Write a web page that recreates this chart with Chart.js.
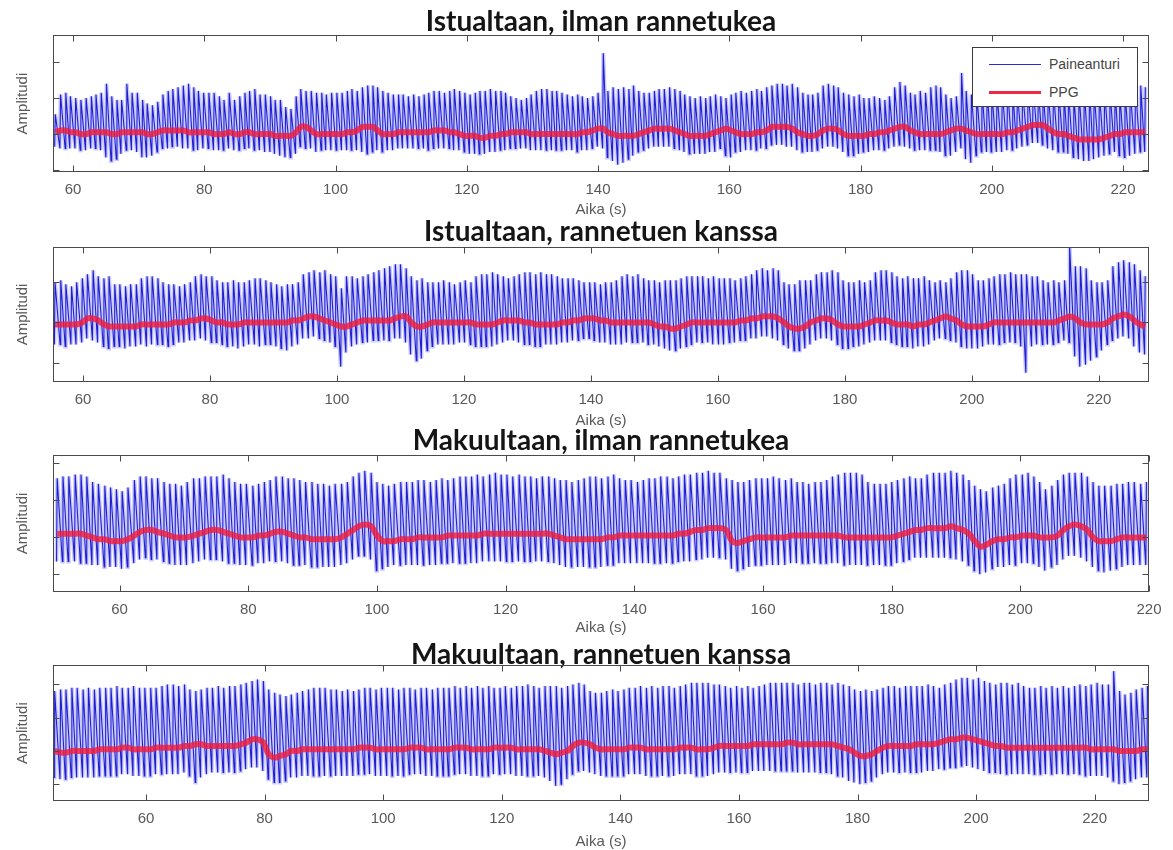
<!DOCTYPE html>
<html>
<head>
<meta charset="utf-8">
<title>Paineanturi vs PPG</title>
<script src="https://cdn.jsdelivr.net/npm/chart.js"></script>
<style>
  body { margin: 0; background: #fff; }
  #wrap { position: relative; width: 1173px; height: 850px; overflow: hidden; background: #fff; }
  #wrap canvas { position: absolute; left: 0; }
  #legend {
    position: absolute; left: 972px; top: 47px; width: 164px; height: 58px;
    border: 1px solid #3a3a3a; background: #fff; z-index: 5;
    font-family: "Liberation Sans", Arial, sans-serif; font-size: 14px; color: #444;
  }
  .lg-row { position: absolute; left: 0; height: 20px; width: 100%; }
  .lg-line { position: absolute; left: 16px; width: 52px; top: 50%; }
  .lg-text { position: absolute; left: 76px; top: 1px; line-height: 18px; }
</style>
</head>
<body>
<div id="wrap">
  <canvas id="panel1" width="1173" height="220" style="top:0px"></canvas>
  <canvas id="panel2" width="1173" height="218" style="top:212px"></canvas>
  <canvas id="panel3" width="1173" height="219" style="top:420px"></canvas>
  <canvas id="panel4" width="1173" height="216" style="top:635px"></canvas>
  <div id="legend"></div>
</div>
<script>
// Paineanturi (pressure sensor) vs PPG, four measurement conditions
// values per heart beat read off the figure: beat time (s), pulse peak, low point before the upstroke,
// and the PPG level at that beat

const seriesNames = ['Paineanturi', 'PPG'];
const seriesColors = ['#2b2bd6', '#ee2a44'];
const panelTitles = [
  'Istualtaan, ilman rannetukea',
  'Istualtaan, rannetuen kanssa',
  'Makuultaan, ilman rannetukea',
  'Makuultaan, rannetuen kanssa'
];
const xTickValues = [60, 80, 100, 120, 140, 160, 180, 200, 220];
const yTickValues = [
  [0, 20, 40, 60],
  [0, 20, 40],
  [0, 20, 40, 60],
  [0, 20, 40, 60]
];
const xLimits = [[56.95, 223.96], [55.28, 227.9], [49.65, 220], [44.32, 229.16]];
const yLimits = [[-1.1, 75], [-9.5, 57.5], [-9.4, 64.5], [-10.1, 71.6]];

// ---- panel 1: sitting, no wrist support ----
const p1Time = [
  57.3, 58.1, 58.9, 59.6, 60.4, 61.2, 62.0, 62.8, 63.5, 64.3,
  65.1, 65.9, 66.7, 67.4, 68.2, 69.0, 69.8, 70.6, 71.3, 72.1,
  72.9, 73.7, 74.5, 75.2, 76.0, 76.8, 77.6, 78.4, 79.1, 79.9,
  80.7, 81.5, 82.3, 83.0, 83.8, 84.6, 85.4, 86.2, 86.9, 87.7,
  88.5, 89.3, 90.1, 90.8, 91.6, 92.4, 93.2, 94.0, 94.7, 95.5,
  96.3, 97.1, 97.9, 98.6, 99.4, 100.2, 101.0, 101.8, 102.5, 103.3,
  104.1, 104.9, 105.7, 106.4, 107.2, 108.0, 108.8, 109.6, 110.3, 111.1,
  111.9, 112.7, 113.5, 114.2, 115.0, 115.8, 116.6, 117.4, 118.1, 118.9,
  119.7, 120.5, 121.3, 122.0, 122.8, 123.6, 124.4, 125.2, 125.9, 126.7,
  127.5, 128.3, 129.1, 129.8, 130.6, 131.4, 132.2, 133.0, 133.7, 134.5,
  135.3, 136.1, 136.9, 137.6, 138.4, 139.2, 140.0, 140.8, 141.5, 142.3,
  143.1, 143.9, 144.7, 145.4, 146.2, 147.0, 147.8, 148.6, 149.3, 150.1,
  150.9, 151.7, 152.5, 153.2, 154.0, 154.8, 155.6, 156.4, 157.1, 157.9,
  158.7, 159.5, 160.3, 161.0, 161.8, 162.6, 163.4, 164.2, 164.9, 165.7,
  166.5, 167.3, 168.1, 168.8, 169.6, 170.4, 171.2, 172.0, 172.7, 173.5,
  174.3, 175.1, 175.9, 176.6, 177.4, 178.2, 179.0, 179.8, 180.5, 181.3,
  182.1, 182.9, 183.7, 184.4, 185.2, 186.0, 186.8, 187.6, 188.3, 189.1,
  189.9, 190.7, 191.5, 192.2, 193.0, 193.8, 194.6, 195.4, 196.1, 196.9,
  197.7, 198.5, 199.3, 200.0, 200.8, 201.6, 202.4, 203.2, 203.9, 204.7,
  205.5, 206.3, 207.1, 207.8, 208.6, 209.4, 210.2, 211.0, 211.7, 212.5,
  213.3, 214.1, 214.9, 215.6, 216.4, 217.2, 218.0, 218.8, 219.5, 220.3,
  221.1, 221.9, 222.7, 223.4
];
const p1Peak = [
  31, 42, 43, 41, 40, 39, 40, 41, 42, 43,
  48, 41, 39, 39, 48, 43, 43, 39, 37, 36,
  38, 42, 44, 45, 46, 47, 48, 46, 44, 43,
  43, 43, 41, 39, 43, 39, 41, 43, 44, 45,
  42, 42, 41, 39, 39, 35, 34, 41, 45, 44,
  44, 43, 43, 42, 43, 43, 43, 44, 45, 44,
  46, 47, 47, 46, 44, 43, 42, 42, 42, 41,
  42, 41, 42, 43, 44, 44, 43, 44, 45, 44,
  43, 42, 43, 44, 44, 45, 44, 44, 43, 41,
  40, 39, 40, 42, 44, 45, 45, 44, 44, 43,
  42, 41, 42, 41, 40, 41, 43, 65, 44, 46,
  45, 46, 45, 47, 44, 43, 43, 44, 45, 45,
  46, 45, 44, 42, 41, 40, 41, 40, 41, 42,
  41, 40, 42, 43, 44, 43, 44, 45, 44, 46,
  47, 48, 48, 47, 48, 46, 43, 42, 42, 43,
  47, 48, 47, 46, 43, 42, 41, 42, 40, 40,
  41, 40, 39, 41, 46, 49, 47, 43, 42, 44,
  43, 46, 47, 46, 42, 40, 41, 54, 44, 42,
  43, 44, 45, 44, 43, 44, 45, 44, 43, 44,
  45, 46, 45, 44, 43, 44, 45, 44, 43, 42,
  43, 44, 45, 44, 43, 44, 45, 44, 43, 44,
  45, 46, 47, 46
];
const p1Trough = [
  13, 12, 12, 12, 12, 11, 11, 12, 12, 11,
  7, 5, 6, 9, 11, 11, 10, 7, 7, 8,
  10, 12, 12, 13, 13, 12, 12, 11, 11, 12,
  12, 11, 11, 11, 12, 11, 11, 12, 12, 11,
  11, 10, 10, 9, 8, 7, 7, 9, 13, 12,
  12, 10, 11, 11, 11, 11, 11, 11, 11, 11,
  10, 9, 10, 11, 10, 11, 11, 12, 12, 12,
  12, 12, 12, 11, 12, 12, 12, 12, 11, 11,
  10, 9, 9, 9, 9, 10, 10, 11, 11, 12,
  12, 12, 12, 11, 11, 11, 11, 11, 11, 11,
  11, 11, 10, 11, 11, 12, 13, 12, 7, 5,
  3, 4, 6, 8, 10, 11, 12, 13, 13, 13,
  13, 12, 11, 10, 9, 9, 9, 9, 10, 10,
  12, 8, 7, 10, 10, 11, 11, 11, 12, 12,
  14, 14, 14, 13, 13, 11, 10, 10, 10, 11,
  12, 13, 13, 12, 10, 8, 8, 9, 10, 10,
  11, 11, 11, 12, 13, 14, 13, 12, 11, 11,
  11, 11, 11, 10, 8, 8, 10, 12, 6, 4,
  8, 10, 10, 10, 10, 10, 11, 11, 12, 13,
  14, 15, 15, 14, 12, 11, 10, 10, 9, 7,
  6, 5, 5, 6, 7, 8, 9, 10, 8, 7,
  8, 9, 10, 10
];
const p1Ppg = [
  21, 22, 22, 21, 21, 20, 20, 21, 21, 21,
  21, 20, 20, 21, 21, 21, 21, 21, 20, 20,
  21, 22, 22, 22, 22, 22, 21, 21, 21, 21,
  21, 20, 20, 20, 21, 20, 20, 21, 21, 20,
  20, 20, 20, 19, 19, 19, 19, 21, 24, 24,
  22, 20, 20, 20, 20, 20, 20, 21, 21, 22,
  24, 24, 24, 22, 20, 20, 20, 21, 21, 21,
  21, 21, 21, 21, 22, 22, 22, 21, 21, 20,
  19, 19, 19, 18, 18, 19, 19, 20, 20, 21,
  21, 21, 21, 20, 20, 20, 20, 20, 20, 20,
  20, 20, 20, 21, 21, 22, 23, 23, 21, 20,
  19, 19, 19, 19, 20, 21, 22, 23, 23, 23,
  23, 22, 21, 20, 19, 19, 19, 19, 20, 21,
  22, 23, 22, 21, 20, 20, 20, 21, 21, 22,
  24, 24, 24, 24, 23, 21, 20, 19, 19, 20,
  22, 23, 23, 22, 20, 19, 19, 19, 19, 20,
  20, 21, 21, 22, 23, 24, 24, 22, 21, 20,
  20, 20, 20, 20, 21, 22, 23, 23, 22, 21,
  20, 20, 20, 20, 20, 20, 21, 21, 22, 23,
  24, 25, 25, 25, 23, 21, 20, 20, 19, 18,
  17, 17, 17, 17, 17, 18, 19, 20, 20, 21,
  21, 21, 21, 21
];

// ---- panel 2: sitting, with wrist support ----
const p2Time = [
  55.6, 56.5, 57.3, 58.2, 59.0, 59.9, 60.7, 61.6, 62.4, 63.3,
  64.1, 65.0, 65.8, 66.7, 67.5, 68.4, 69.2, 70.1, 70.9, 71.8,
  72.6, 73.5, 74.3, 75.2, 76.0, 76.9, 77.7, 78.6, 79.4, 80.3,
  81.1, 82.0, 82.8, 83.7, 84.5, 85.4, 86.2, 87.1, 87.9, 88.8,
  89.6, 90.5, 91.3, 92.2, 93.0, 93.9, 94.7, 95.6, 96.4, 97.3,
  98.1, 99.0, 99.8, 100.7, 101.5, 102.4, 103.2, 104.1, 104.9, 105.8,
  106.6, 107.5, 108.3, 109.2, 110.0, 110.9, 111.7, 112.6, 113.4, 114.3,
  115.1, 116.0, 116.8, 117.7, 118.5, 119.4, 120.2, 121.1, 121.9, 122.8,
  123.6, 124.5, 125.3, 126.2, 127.0, 127.9, 128.7, 129.6, 130.4, 131.3,
  132.1, 133.0, 133.8, 134.7, 135.5, 136.4, 137.2, 138.1, 138.9, 139.8,
  140.6, 141.5, 142.3, 143.2, 144.0, 144.9, 145.7, 146.6, 147.4, 148.3,
  149.1, 150.0, 150.8, 151.7, 152.5, 153.4, 154.2, 155.1, 155.9, 156.8,
  157.6, 158.5, 159.3, 160.2, 161.0, 161.9, 162.7, 163.6, 164.4, 165.3,
  166.1, 167.0, 167.8, 168.7, 169.5, 170.4, 171.2, 172.1, 172.9, 173.8,
  174.6, 175.5, 176.3, 177.2, 178.0, 178.9, 179.7, 180.6, 181.4, 182.3,
  183.1, 184.0, 184.8, 185.7, 186.5, 187.4, 188.2, 189.1, 189.9, 190.8,
  191.6, 192.5, 193.3, 194.2, 195.0, 195.9, 196.7, 197.6, 198.4, 199.3,
  200.1, 201.0, 201.8, 202.7, 203.5, 204.4, 205.2, 206.1, 206.9, 207.8,
  208.6, 209.5, 210.3, 211.2, 212.0, 212.9, 213.7, 214.6, 215.4, 216.3,
  217.1, 218.0, 218.8, 219.7, 220.5, 221.4, 222.2, 223.1, 223.9, 224.8,
  225.6, 226.5, 227.3
];
const p2Peak = [
  40, 41, 39, 38, 40, 42, 44, 46, 43, 42,
  43, 39, 39, 38, 39, 39, 42, 43, 43, 42,
  40, 39, 39, 38, 39, 40, 43, 44, 43, 43,
  41, 40, 40, 41, 40, 40, 41, 42, 42, 41,
  40, 39, 38, 39, 39, 40, 44, 45, 46, 45,
  46, 44, 43, 37, 43, 43, 42, 43, 44, 45,
  46, 47, 48, 49, 49, 47, 43, 41, 42, 40,
  40, 40, 41, 40, 39, 40, 41, 40, 43, 44,
  44, 45, 44, 43, 42, 43, 44, 45, 45, 44,
  45, 44, 44, 43, 42, 42, 42, 41, 40, 40,
  40, 39, 40, 40, 41, 43, 44, 43, 44, 42,
  41, 41, 40, 41, 41, 41, 42, 43, 43, 43,
  43, 42, 43, 42, 42, 42, 41, 42, 43, 44,
  46, 47, 46, 47, 46, 40, 39, 39, 41, 41,
  41, 44, 45, 45, 46, 45, 41, 40, 40, 41,
  40, 41, 45, 46, 46, 45, 43, 42, 43, 42,
  42, 43, 41, 40, 41, 40, 42, 45, 46, 46,
  44, 41, 41, 42, 43, 44, 44, 45, 44, 44,
  44, 43, 43, 41, 40, 41, 40, 41, 58, 48,
  48, 47, 41, 40, 40, 41, 48, 50, 51, 50,
  49, 46, 43
];
const p2Trough = [
  9, 9, 8, 9, 9, 10, 12, 11, 10, 8,
  7, 8, 8, 7, 8, 8, 9, 8, 9, 9,
  9, 8, 9, 10, 10, 11, 11, 12, 11, 10,
  10, 9, 8, 8, 7, 8, 9, 9, 8, 9,
  9, 8, 7, 6, 8, 9, 12, 12, 13, 12,
  11, 10, 8, -2, 5, 8, 9, 10, 10, 11,
  11, 11, 11, 12, 12, 10, 4, 1, 2, 6,
  8, 9, 9, 9, 9, 10, 10, 9, 8, 8,
  8, 8, 9, 10, 11, 11, 10, 9, 9, 8,
  8, 9, 9, 9, 10, 10, 11, 11, 12, 12,
  11, 10, 10, 9, 9, 9, 10, 10, 10, 10,
  9, 9, 8, 7, 6, 6, 7, 8, 9, 10,
  10, 10, 9, 9, 9, 10, 10, 11, 11, 12,
  12, 13, 13, 12, 11, 9, 7, 6, 6, 7,
  9, 11, 12, 12, 11, 9, 7, 7, 8, 8,
  9, 10, 11, 11, 11, 10, 9, 8, 8, 7,
  8, 8, 9, 11, 12, 12, 11, 10, 8, 7,
  7, 7, 8, 9, 9, 9, 10, 10, 10, 8,
  -5, 8, 9, 9, 9, 9, 10, 11, 10, 3,
  -2, -1, 1, 3, 6, 9, 11, 12, 13, 12,
  8, 5, 4
];
const p2Ppg = [
  19, 19, 19, 19, 19, 20, 22, 22, 21, 19,
  18, 18, 18, 18, 18, 18, 19, 19, 19, 19,
  19, 19, 20, 20, 20, 21, 21, 22, 22, 21,
  20, 20, 19, 19, 19, 20, 20, 20, 20, 20,
  20, 20, 20, 20, 21, 21, 22, 23, 23, 22,
  21, 20, 19, 18, 18, 19, 20, 21, 21, 21,
  21, 21, 21, 22, 23, 23, 20, 18, 18, 19,
  20, 20, 20, 20, 20, 20, 20, 20, 19, 19,
  19, 19, 20, 21, 21, 21, 21, 20, 20, 19,
  19, 19, 19, 19, 20, 20, 21, 21, 22, 22,
  22, 21, 21, 20, 20, 20, 20, 20, 20, 20,
  20, 19, 18, 18, 17, 17, 18, 19, 20, 20,
  20, 20, 20, 20, 20, 20, 20, 21, 21, 22,
  22, 23, 23, 23, 22, 20, 18, 17, 17, 18,
  20, 21, 22, 22, 21, 19, 18, 18, 18, 18,
  19, 20, 21, 21, 21, 20, 19, 19, 19, 18,
  19, 19, 20, 21, 22, 23, 22, 21, 19, 18,
  18, 18, 18, 19, 20, 20, 20, 20, 20, 20,
  20, 20, 20, 20, 20, 20, 21, 22, 23, 22,
  20, 19, 19, 19, 19, 20, 22, 23, 24, 23,
  21, 19, 18
];

// ---- panel 3: lying, no wrist support ----
const p3Time = [
  50.3, 51.2, 52.1, 53.1, 54.0, 54.9, 55.8, 56.7, 57.7, 58.6,
  59.5, 60.4, 61.3, 62.3, 63.2, 64.1, 65.0, 65.9, 66.9, 67.8,
  68.7, 69.6, 70.5, 71.5, 72.4, 73.3, 74.2, 75.1, 76.1, 77.0,
  77.9, 78.8, 79.7, 80.7, 81.6, 82.5, 83.4, 84.3, 85.3, 86.2,
  87.1, 88.0, 88.9, 89.9, 90.8, 91.7, 92.6, 93.5, 94.5, 95.4,
  96.3, 97.2, 98.1, 99.1, 100.0, 100.9, 101.8, 102.7, 103.7, 104.6,
  105.5, 106.4, 107.3, 108.3, 109.2, 110.1, 111.0, 111.9, 112.9, 113.8,
  114.7, 115.6, 116.5, 117.5, 118.4, 119.3, 120.2, 121.1, 122.1, 123.0,
  123.9, 124.8, 125.7, 126.7, 127.6, 128.5, 129.4, 130.3, 131.3, 132.2,
  133.1, 134.0, 134.9, 135.9, 136.8, 137.7, 138.6, 139.5, 140.5, 141.4,
  142.3, 143.2, 144.1, 145.1, 146.0, 146.9, 147.8, 148.7, 149.7, 150.6,
  151.5, 152.4, 153.3, 154.3, 155.2, 156.1, 157.0, 157.9, 158.9, 159.8,
  160.7, 161.6, 162.5, 163.5, 164.4, 165.3, 166.2, 167.1, 168.1, 169.0,
  169.9, 170.8, 171.7, 172.7, 173.6, 174.5, 175.4, 176.3, 177.3, 178.2,
  179.1, 180.0, 180.9, 181.9, 182.8, 183.7, 184.6, 185.5, 186.5, 187.4,
  188.3, 189.2, 190.1, 191.1, 192.0, 192.9, 193.8, 194.7, 195.7, 196.6,
  197.5, 198.4, 199.3, 200.3, 201.2, 202.1, 203.0, 203.9, 204.9, 205.8,
  206.7, 207.6, 208.5, 209.5, 210.4, 211.3, 212.2, 213.1, 214.1, 215.0,
  215.9, 216.8, 217.7, 218.7, 219.6
];
const p3Peak = [
  52, 53, 53, 54, 54, 53, 50, 49, 48, 47,
  46, 45, 47, 51, 53, 53, 52, 52, 50, 49,
  49, 48, 50, 52, 52, 53, 53, 53, 54, 52,
  50, 49, 49, 48, 49, 50, 51, 53, 53, 52,
  52, 51, 50, 50, 49, 49, 48, 49, 49, 50,
  53, 55, 56, 55, 50, 49, 48, 49, 50, 50,
  50, 51, 51, 50, 51, 52, 51, 52, 53, 53,
  53, 54, 53, 54, 55, 54, 54, 53, 54, 53,
  53, 52, 53, 53, 52, 51, 51, 50, 51, 52,
  53, 53, 52, 53, 54, 52, 51, 51, 50, 51,
  52, 52, 53, 53, 52, 53, 54, 54, 55, 55,
  56, 55, 55, 52, 51, 50, 50, 51, 52, 52,
  52, 53, 52, 51, 52, 50, 50, 49, 50, 50,
  51, 53, 54, 55, 55, 55, 54, 50, 49, 49,
  49, 50, 51, 52, 53, 52, 52, 54, 55, 55,
  55, 56, 55, 54, 51, 48, 46, 45, 47, 48,
  49, 52, 54, 54, 55, 53, 50, 46, 48, 51,
  54, 55, 55, 55, 53, 50, 48, 48, 48, 49,
  49, 50, 50, 49, 50
];
const p3Trough = [
  7, 7, 7, 7, 6, 6, 5, 5, 4, 4,
  4, 3, 4, 6, 8, 9, 8, 8, 7, 6,
  5, 5, 5, 6, 7, 8, 8, 8, 7, 6,
  6, 5, 5, 5, 6, 6, 7, 7, 7, 6,
  5, 5, 5, 4, 4, 4, 4, 4, 5, 6,
  8, 10, 10, 8, 2, 3, 4, 5, 5, 5,
  5, 5, 5, 5, 5, 6, 6, 6, 6, 6,
  6, 6, 7, 7, 7, 7, 7, 7, 7, 7,
  7, 7, 7, 7, 6, 5, 4, 4, 4, 4,
  4, 4, 4, 5, 5, 6, 6, 6, 6, 6,
  6, 6, 6, 6, 6, 7, 7, 7, 8, 8,
  9, 9, 9, 8, 3, 2, 3, 4, 5, 5,
  5, 5, 5, 5, 6, 6, 6, 6, 6, 6,
  6, 6, 6, 5, 5, 5, 5, 5, 5, 5,
  5, 5, 6, 7, 8, 9, 9, 9, 9, 9,
  9, 9, 8, 7, 5, 2, 0, 1, 3, 4,
  4, 5, 5, 6, 6, 6, 4, 2, 4, 5,
  8, 10, 10, 9, 7, 4, 2, 1, 2, 3,
  4, 5, 5, 5, 5
];
const p3Ppg = [
  22, 22, 22, 22, 22, 21, 20, 19, 19, 18,
  18, 18, 19, 21, 23, 24, 24, 23, 22, 21,
  20, 20, 20, 21, 22, 23, 24, 24, 23, 22,
  21, 20, 20, 20, 21, 21, 22, 23, 23, 22,
  21, 20, 20, 19, 19, 19, 19, 19, 20, 22,
  24, 26, 27, 26, 21, 18, 18, 18, 19, 19,
  19, 20, 20, 20, 20, 20, 21, 21, 21, 21,
  21, 21, 22, 22, 22, 22, 22, 22, 22, 22,
  22, 22, 22, 22, 21, 20, 19, 19, 19, 19,
  19, 19, 19, 20, 20, 21, 21, 21, 21, 21,
  21, 21, 21, 21, 21, 22, 22, 23, 24, 24,
  25, 25, 25, 24, 18, 17, 18, 19, 20, 20,
  20, 20, 20, 20, 21, 21, 21, 21, 21, 21,
  21, 21, 21, 20, 20, 20, 20, 20, 20, 20,
  20, 20, 21, 22, 23, 24, 24, 25, 25, 25,
  25, 26, 25, 24, 22, 18, 15, 16, 18, 19,
  19, 20, 20, 21, 21, 21, 20, 20, 20, 21,
  24, 26, 27, 26, 24, 20, 18, 18, 18, 19,
  20, 20, 20, 20, 20
];

// ---- panel 4: lying, with wrist support ----
const p4Time = [
  44.6, 45.6, 46.5, 47.5, 48.4, 49.4, 50.3, 51.3, 52.2, 53.2,
  54.1, 55.1, 56.0, 57.0, 57.9, 58.9, 59.8, 60.8, 61.7, 62.7,
  63.6, 64.6, 65.5, 66.5, 67.4, 68.4, 69.3, 70.3, 71.2, 72.2,
  73.1, 74.1, 75.0, 76.0, 76.9, 77.9, 78.8, 79.8, 80.7, 81.7,
  82.6, 83.6, 84.5, 85.5, 86.4, 87.4, 88.3, 89.3, 90.2, 91.2,
  92.1, 93.1, 94.0, 95.0, 95.9, 96.9, 97.8, 98.8, 99.7, 100.7,
  101.6, 102.6, 103.5, 104.5, 105.4, 106.4, 107.3, 108.3, 109.2, 110.2,
  111.1, 112.1, 113.0, 114.0, 114.9, 115.9, 116.8, 117.8, 118.7, 119.7,
  120.6, 121.6, 122.5, 123.5, 124.4, 125.4, 126.3, 127.3, 128.2, 129.2,
  130.1, 131.1, 132.0, 133.0, 133.9, 134.9, 135.8, 136.8, 137.7, 138.7,
  139.6, 140.6, 141.5, 142.5, 143.4, 144.4, 145.3, 146.3, 147.2, 148.2,
  149.1, 150.1, 151.0, 152.0, 152.9, 153.9, 154.8, 155.8, 156.7, 157.7,
  158.6, 159.6, 160.5, 161.5, 162.4, 163.4, 164.3, 165.3, 166.2, 167.2,
  168.1, 169.1, 170.0, 171.0, 171.9, 172.9, 173.8, 174.8, 175.7, 176.7,
  177.6, 178.6, 179.5, 180.5, 181.4, 182.4, 183.3, 184.3, 185.2, 186.2,
  187.1, 188.1, 189.0, 190.0, 190.9, 191.9, 192.8, 193.8, 194.7, 195.7,
  196.6, 197.6, 198.5, 199.5, 200.4, 201.4, 202.3, 203.3, 204.2, 205.2,
  206.1, 207.1, 208.0, 209.0, 209.9, 210.9, 211.8, 212.8, 213.7, 214.7,
  215.6, 216.6, 217.5, 218.5, 219.4, 220.4, 221.3, 222.3, 223.2, 224.2,
  225.1, 226.1, 227.0, 228.0, 228.9
];
const p4Peak = [
  56, 57, 57, 58, 58, 57, 58, 57, 58, 58,
  58, 59, 58, 58, 59, 58, 58, 58, 58, 59,
  60, 60, 59, 60, 57, 56, 57, 58, 58, 59,
  58, 59, 59, 60, 61, 62, 63, 62, 57, 55,
  54, 53, 54, 55, 56, 57, 58, 58, 58, 57,
  57, 56, 57, 56, 57, 58, 58, 57, 58, 58,
  58, 57, 58, 58, 57, 58, 58, 57, 58, 58,
  58, 59, 58, 59, 58, 59, 58, 59, 58, 58,
  59, 58, 59, 59, 60, 59, 58, 59, 59, 59,
  58, 59, 60, 61, 60, 56, 55, 55, 56, 57,
  56, 57, 58, 58, 59, 58, 59, 58, 59, 59,
  58, 59, 60, 61, 61, 61, 61, 60, 60, 59,
  58, 59, 58, 59, 58, 59, 60, 61, 61, 61,
  61, 61, 60, 61, 61, 60, 61, 61, 60, 61,
  60, 59, 57, 56, 57, 56, 57, 58, 59, 59,
  58, 59, 59, 59, 59, 60, 59, 58, 60, 61,
  63, 64, 64, 63, 64, 62, 61, 60, 61, 61,
  60, 61, 59, 58, 58, 59, 58, 59, 58, 59,
  58, 59, 60, 59, 60, 61, 60, 60, 68, 56,
  54, 55, 57, 58, 59
];
const p4Trough = [
  4, 3, 3, 4, 4, 4, 4, 4, 5, 5,
  5, 5, 6, 6, 5, 5, 5, 5, 6, 6,
  6, 6, 6, 7, 5, 1, 4, 6, 7, 7,
  7, 7, 7, 8, 9, 10, 10, 8, 3, 1,
  1, 2, 4, 4, 5, 5, 5, 5, 5, 5,
  5, 5, 5, 5, 6, 6, 6, 5, 5, 5,
  5, 5, 5, 6, 6, 6, 5, 5, 5, 5,
  5, 6, 6, 6, 5, 5, 5, 5, 6, 6,
  6, 6, 5, 5, 5, 5, 5, 4, 2, -1,
  0, 3, 6, 8, 8, 7, 6, 5, 5, 5,
  5, 5, 6, 6, 6, 5, 5, 5, 5, 5,
  5, 6, 6, 6, 5, 5, 5, 6, 7, 7,
  7, 7, 7, 7, 8, 8, 8, 8, 8, 8,
  8, 8, 7, 7, 7, 7, 7, 7, 6, 5,
  4, 2, 1, 0, 1, 2, 4, 6, 7, 7,
  7, 7, 7, 7, 7, 8, 8, 9, 9, 10,
  10, 11, 11, 10, 9, 8, 7, 7, 6, 6,
  6, 6, 6, 6, 6, 6, 6, 6, 6, 6,
  6, 6, 6, 5, 5, 5, 5, 4, 2, 0,
  1, 2, 3, 4, 4
];
const p4Ppg = [
  20, 19, 19, 20, 20, 20, 20, 20, 21, 21,
  21, 21, 22, 22, 21, 21, 21, 21, 22, 22,
  22, 22, 22, 23, 23, 24, 24, 23, 23, 23,
  23, 23, 23, 24, 25, 27, 27, 25, 18, 16,
  17, 18, 20, 20, 21, 21, 21, 21, 21, 21,
  21, 21, 21, 21, 22, 22, 22, 21, 21, 21,
  21, 21, 21, 22, 22, 22, 21, 21, 21, 21,
  21, 22, 22, 22, 21, 21, 21, 21, 22, 22,
  22, 22, 21, 21, 21, 21, 21, 20, 19, 18,
  19, 20, 23, 25, 25, 24, 22, 21, 21, 21,
  21, 21, 22, 22, 22, 21, 21, 21, 21, 21,
  21, 22, 22, 22, 21, 21, 21, 22, 23, 23,
  23, 23, 23, 23, 24, 24, 24, 24, 24, 24,
  25, 25, 24, 24, 24, 24, 24, 24, 24, 23,
  22, 21, 19, 17, 17, 18, 20, 22, 23, 23,
  23, 23, 23, 24, 24, 24, 24, 25, 26, 27,
  27, 28, 28, 27, 26, 25, 24, 23, 23, 22,
  22, 22, 22, 22, 22, 22, 22, 22, 22, 22,
  22, 22, 22, 22, 21, 21, 21, 21, 21, 20,
  20, 20, 20, 21, 21
];

const panelData = [
  { time: p1Time, peak: p1Peak, trough: p1Trough, ppg: p1Ppg },
  { time: p2Time, peak: p2Peak, trough: p2Trough, ppg: p2Ppg },
  { time: p3Time, peak: p3Peak, trough: p3Trough, ppg: p3Ppg },
  { time: p4Time, peak: p4Peak, trough: p4Trough, ppg: p4Ppg }
];

// layout of each canvas so the plot boxes land where the figure has them
const panelLayout = [
  { titleTop: 12, titleBottom: 3, xHeight: 47, padBottom: 1 },
  { titleTop: 10, titleBottom: 5, xHeight: 48.3, padBottom: 0 },
  { titleTop: 11.3, titleBottom: 3.7, xHeight: 44.8, padBottom: 2.5 },
  { titleTop: 9.5, titleBottom: 0.5, xHeight: 50, padBottom: 0 }
];

// one pressure pulse = steep upstroke from the low point to the peak,
// then a slow decay down to the next beat's low point
const UPSTROKE = 0.1;

function pressurePoints(d) {
  const pts = [];
  d.time.forEach((t, i) => {
    pts.push({ x: t - UPSTROKE, y: d.trough[i] });
    pts.push({ x: t, y: d.peak[i] });
  });
  return pts;
}

function ppgPoints(d) {
  return d.time.map((t, i) => ({ x: t, y: d.ppg[i] }));
}

// matlab style frame: box round the plot area, tick marks pointing inwards on all four sides
const matlabBox = {
  id: 'matlabBox',
  afterDraw(chart) {
    const { ctx, chartArea: a, scales } = chart;
    const l = Math.round(a.left) + 0.5, r = Math.round(a.right) - 0.5;
    const t = Math.round(a.top) + 0.5, b = Math.round(a.bottom) - 0.5;
    ctx.save();
    ctx.strokeStyle = '#4a4a4a';
    ctx.lineWidth = 1;
    ctx.strokeRect(l, t, r - l, b - t);
    ctx.beginPath();
    scales.x.ticks.forEach(tk => {
      const px = Math.round(scales.x.getPixelForValue(tk.value)) + 0.5;
      ctx.moveTo(px, b); ctx.lineTo(px, b - 6);
      ctx.moveTo(px, t); ctx.lineTo(px, t + 6);
    });
    scales.y.ticks.forEach(tk => {
      const py = Math.round(scales.y.getPixelForValue(tk.value)) + 0.5;
      ctx.moveTo(l, py); ctx.lineTo(l + 6, py);
      ctx.moveTo(r, py); ctx.lineTo(r - 6, py);
    });
    ctx.stroke();
    ctx.restore();
  }
};

const axisFont = { family: '"Liberation Sans", Arial, sans-serif', size: 15 };

function renderPanel(idx) {
  const d = panelData[idx];
  const lay = panelLayout[idx];
  const pulse = pressurePoints(d);

  new Chart(document.getElementById('panel' + (idx + 1)), {
    type: 'line',
    data: {
      datasets: [
        { label: seriesNames[1], data: ppgPoints(d), borderColor: 'rgba(242,26,56,0.8)', borderWidth: 6,
          pointRadius: 0, tension: 0.35, order: 0 },
        { label: seriesNames[0], data: pulse, borderColor: 'rgba(22,22,205,0.95)', borderWidth: 1.1,
          pointRadius: 0, tension: 0, order: 1 },
        // soft halo round the pressure trace, gives the light blue look between beats
        { label: 'halo', data: pulse, borderColor: 'rgba(115,115,255,0.38)', borderWidth: 4,
          pointRadius: 0, tension: 0, order: 2 }
      ]
    },
    options: {
      responsive: false,
      animation: false,
      devicePixelRatio: 1,
      events: [],
      layout: { padding: { left: 14, right: 24, top: 0, bottom: lay.padBottom } },
      plugins: {
        legend: { display: false },
        tooltip: { enabled: false },
        title: {
          display: true,
          fullSize: false,
          text: panelTitles[idx],
          color: '#151515',
          font: { family: 'Lato, "Open Sans", sans-serif', weight: 'bold', size: 28, lineHeight: 0.72 },
          padding: { top: lay.titleTop, bottom: lay.titleBottom }
        }
      },
      scales: {
        x: {
          type: 'linear',
          min: xLimits[idx][0],
          max: xLimits[idx][1],
          afterBuildTicks: s => { s.ticks = xTickValues.map(v => ({ value: v })); },
          afterFit: s => { s.height = lay.xHeight; },
          grid: { display: false, drawTicks: false },
          border: { display: false },
          ticks: { color: '#595959', font: axisFont, padding: 9, maxRotation: 0, autoSkip: false },
          title: { display: true, text: 'Aika (s)', color: '#595959', font: axisFont, padding: 0 }
        },
        y: {
          type: 'linear',
          min: yLimits[idx][0],
          max: yLimits[idx][1],
          afterBuildTicks: s => { s.ticks = yTickValues[idx].map(v => ({ value: v })); },
          afterFit: s => { s.width = 39; },
          grid: { display: false, drawTicks: false },
          border: { display: false },
          ticks: { display: false },
          title: { display: true, text: 'Amplitudi', color: '#595959', font: axisFont, padding: 0 }
        }
      }
    },
    plugins: [matlabBox]
  });
}

function renderLegend() {
  const box = document.getElementById('legend');
  const rows = [{ top: 6, h: 1 }, { top: 34, h: 3 }];
  seriesNames.forEach((name, i) => {
    const row = document.createElement('div');
    row.className = 'lg-row';
    row.style.top = rows[i].top + 'px';
    row.innerHTML = '<div class="lg-line" style="height:' + rows[i].h + 'px;margin-top:-' + (rows[i].h / 2) +
      'px;background:' + seriesColors[i] + '"></div><span class="lg-text">' + name + '</span>';
    box.appendChild(row);
  });
}

[0, 1, 2, 3].forEach(renderPanel);
renderLegend();
</script>
</body>
</html>
